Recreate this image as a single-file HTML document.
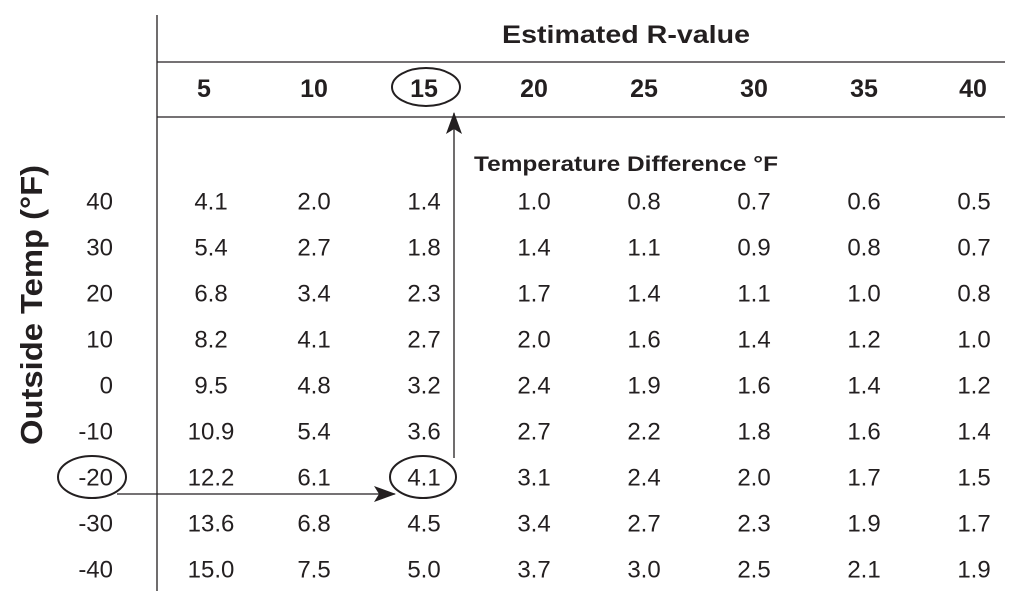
<!DOCTYPE html>
<html><head><meta charset="utf-8"><style>
body{margin:0;background:#fff}
svg{display:block;font-family:"Liberation Sans",Arial,sans-serif}
</style></head><body>
<svg id="chart" width="1015" height="599" viewBox="0 0 1015 599">
<defs><marker id="ah" markerWidth="22" markerHeight="16" refX="21" refY="8" orient="auto" markerUnits="userSpaceOnUse"><path d="M0,0 L22,8 L0,16 L5,8 Z" fill="#231f20"/></marker></defs>
<line x1="157" y1="15" x2="157" y2="591" stroke="#231f20" stroke-width="1.3"/>
<line x1="157" y1="62" x2="1005" y2="62" stroke="#231f20" stroke-width="1.3"/>
<line x1="157" y1="117" x2="1005" y2="117" stroke="#231f20" stroke-width="1.3"/>
<text x="626" y="43" text-anchor="middle" font-size="25" font-weight="bold" fill="#231f20" textLength="248" lengthAdjust="spacingAndGlyphs">Estimated R-value</text>
<text x="626" y="171" text-anchor="middle" font-size="21" font-weight="bold" fill="#231f20" textLength="304" lengthAdjust="spacingAndGlyphs">Temperature Difference °F</text>
<text transform="translate(42,305) rotate(-90)" text-anchor="middle" font-size="31" font-weight="bold" fill="#231f20" textLength="280" lengthAdjust="spacingAndGlyphs">Outside Temp (°F)</text>
<g id="cells"></g>
<ellipse cx="426" cy="87" rx="34" ry="19" fill="none" stroke="#231f20" stroke-width="2"/>
<ellipse cx="92" cy="477" rx="34" ry="21" fill="none" stroke="#231f20" stroke-width="2"/>
<ellipse cx="423" cy="477" rx="33" ry="21" fill="none" stroke="#231f20" stroke-width="2"/>
<line x1="117" y1="494" x2="395" y2="494" stroke="#231f20" stroke-width="1.3" marker-end="url(#ah)"/>
<line x1="454" y1="458" x2="454" y2="113" stroke="#231f20" stroke-width="1.3" marker-end="url(#ah)"/>
</svg>
<script>
const rValues=["5","10","15","20","25","30","35","40"];
const temps=["40","30","20","10","0","-10","-20","-30","-40"];
const row40=["4.1","2.0","1.4","1.0","0.8","0.7","0.6","0.5"];
const row30=["5.4","2.7","1.8","1.4","1.1","0.9","0.8","0.7"];
const row20=["6.8","3.4","2.3","1.7","1.4","1.1","1.0","0.8"];
const row10=["8.2","4.1","2.7","2.0","1.6","1.4","1.2","1.0"];
const row0=["9.5","4.8","3.2","2.4","1.9","1.6","1.4","1.2"];
const rowM10=["10.9","5.4","3.6","2.7","2.2","1.8","1.6","1.4"];
const rowM20=["12.2","6.1","4.1","3.1","2.4","2.0","1.7","1.5"];
const rowM30=["13.6","6.8","4.5","3.4","2.7","2.3","1.9","1.7"];
const rowM40=["15.0","7.5","5.0","3.7","3.0","2.5","2.1","1.9"];
const rows=[row40,row30,row20,row10,row0,rowM10,rowM20,rowM30,rowM40];
const NS="http://www.w3.org/2000/svg";
const g=document.getElementById('cells');
const colX=i=>204+i*110;
const dataX=i=>(i===0?211:204+i*110);
const rowY=j=>202+j*46;
function t(x,y,s,size,bold,anchor){const e=document.createElementNS(NS,'text');e.setAttribute('x',x);e.setAttribute('y',y);e.setAttribute('font-size',size);if(bold)e.setAttribute('font-weight','bold');e.setAttribute('text-anchor',anchor);e.setAttribute('dominant-baseline','central');e.setAttribute('fill','#231f20');e.textContent=s;g.appendChild(e);return e;}
rValues.forEach((r,i)=>{const e=t(colX(i)+(i===7?-1:0),89,r,25,true,'middle');

});
temps.forEach((tp,j)=>{const e=t(113,rowY(j),tp,24,false,'end');


rows[j].forEach((v,i)=>{const c=t(dataX(i),rowY(j),v,24,false,'middle');

});});
</script>
</body></html>
